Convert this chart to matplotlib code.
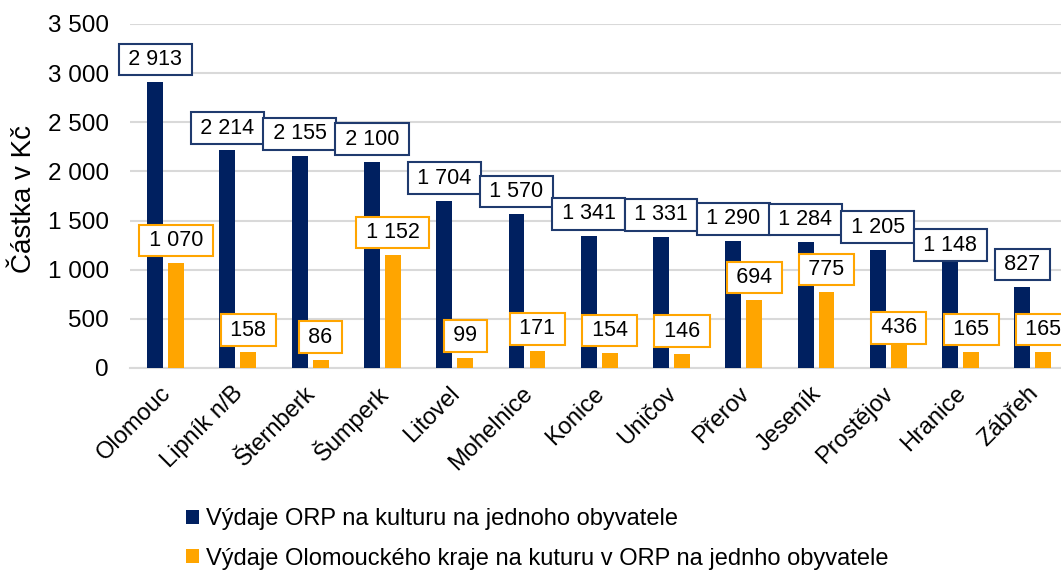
import matplotlib
matplotlib.use("Agg")
import matplotlib.pyplot as plt
import matplotlib.transforms as mtransforms
import numpy as np

categories = ["Olomouc", "Lipník n/B", "Šternberk", "Šumperk", "Litovel", "Mohelnice",
              "Konice", "Uničov", "Přerov", "Jeseník", "Prostějov", "Hranice", "Zábřeh"]
orp_values = [2913, 2214, 2155, 2100, 1704, 1570, 1341, 1331, 1290, 1284, 1205, 1148, 827]
kraj_values = [1070, 158, 86, 1152, 99, 171, 154, 146, 694, 775, 436, 165, 165]
series_names = ["Výdaje ORP na kulturu na jednoho obyvatele",
                "Výdaje Olomouckého kraje na kuturu v ORP na jednho obyvatele"]
y_label = "Částka v Kč"
y_ticks = [0, 500, 1000, 1500, 2000, 2500, 3000, 3500]

NAVY = "#002060"
ORANGE = "#FFA500"
NAVY_EDGE = "#1F3A6E"
GRID = "#D9D9D9"

plt.rcParams['font.family'] = ['Liberation Sans', 'DejaVu Sans']

fig = plt.figure(figsize=(10.61, 5.71), dpi=100)
ax_w_px = 1069 - 129.5
ax = fig.add_axes([129.5 / 1061, 1 - 368 / 571, ax_w_px / 1061, (368 - 24) / 571])

x = np.arange(len(categories))
w = 0.22
off = 0.145
b1 = ax.bar(x - off, orp_values, width=w, color=NAVY, zorder=3, label=series_names[0])
b2 = ax.bar(x + off, kraj_values, width=w, color=ORANGE, zorder=3, label=series_names[1])

ax.set_xlim(-0.5, len(categories) - 0.5)
ax.set_ylim(0, 3500)
ax.set_yticks(y_ticks)
ax.set_yticklabels([f"{t:,}".replace(",", " ") for t in y_ticks], fontsize=17.5)
ax.yaxis.grid(True, color=GRID, linewidth=1.5, zorder=0)
ax.set_axisbelow(True)
for s in ["top", "right", "left"]:
    ax.spines[s].set_visible(False)
ax.spines["bottom"].set_color(GRID)
ax.spines["bottom"].set_linewidth(1.5)
ax.tick_params(axis="both", length=0)
ax.tick_params(axis="y", pad=15)

ax.set_xticks(x)
ax.set_xticklabels(categories, rotation=45, ha="right", va="center",
                   rotation_mode="anchor", fontsize=17)
ax.tick_params(axis="x", pad=16)
shift = mtransforms.ScaledTranslation(2 / 100, 0, fig.dpi_scale_trans)
for lbl in ax.get_xticklabels():
    lbl.set_transform(lbl.get_transform() + shift)

ax.set_ylabel(y_label, fontsize=20)
ax.yaxis.set_label_coords(-(129.5 - 24) / ax_w_px, (368 - 199) / (368 - 24))
ax.yaxis.label.set_va("center")

# extra downward shifts (points) of a few manually moved labels
navy_shift = {11: -9}
orange_shift = {10: -18}

def add_labels(xs, vals, edge, shifts):
    for i, (xi, v) in enumerate(zip(xs, vals)):
        dy = 8.5 + shifts.get(i, 0)
        ax.annotate("\u2009" + f"{v:,}".replace(",", " ") + "\u2009", (xi, v),
                    xytext=(0, dy), textcoords="offset points",
                    ha="center", va="bottom", fontsize=15.5, zorder=5,
                    family=['Liberation Sans', 'DejaVu Sans'],
                    bbox=dict(boxstyle="square,pad=0.25", fc="white", ec=edge, lw=1.5))

add_labels(x - off, orp_values, NAVY_EDGE, navy_shift)
add_labels(x + off, kraj_values, ORANGE, orange_shift)

leg = fig.legend(handles=[b1, b2], loc="upper left", bbox_to_anchor=(186 / 1061, 1 - 508 / 571),
                 frameon=False, handlelength=0.55, handleheight=0.55,
                 handletextpad=0.3, labelspacing=0.75, borderpad=0, borderaxespad=0,
                 prop={'family': ['Liberation Sans', 'DejaVu Sans'], 'size': 17})

fig.savefig("out.png", dpi=100)
